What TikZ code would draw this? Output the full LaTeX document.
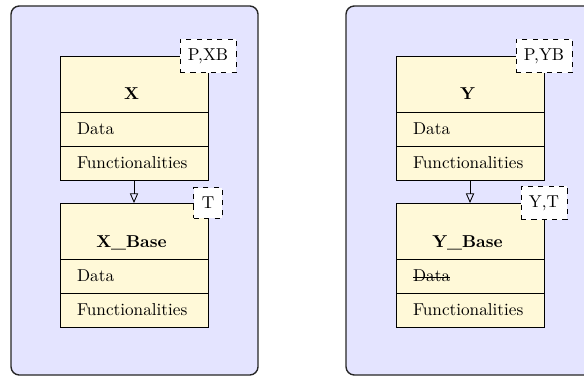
\documentclass[tikz,border=0pt]{standalone}
\usetikzlibrary{arrows.meta}
\definecolor{panelfill}{RGB}{228,228,255}
\definecolor{classfill}{RGB}{255,249,216}
% struck-through text for removed members
\newcommand\strikeword[1]{\setbox0\hbox{#1}\rlap{\rule[2.6pt]{\wd0}{0.45pt}}\box0}
\tikzset{
  panel/.style={draw=black!85, line width=0.8pt, fill=panelfill, rounded corners=4.8pt},
  titlebox/.style={draw, line width=0.5pt, fill=classfill, minimum width=86.05pt, minimum height=32.56pt, inner sep=0pt, outer sep=0pt},
  rowbox/.style={draw, line width=0.5pt, fill=classfill, minimum width=86.05pt, minimum height=19.77pt,
    text width=66.2pt, inner xsep=9.9pt, inner ysep=0pt, align=left, outer sep=0pt},
  tagbox/.style={draw, dashed, line width=0.5pt, fill=white, inner xsep=4.6pt, inner ysep=5.4pt},
  inherit/.style={line width=0.5pt, -{Triangle[open, length=5.6pt, width=4.8pt]}}
}
\begin{document}
\begin{tikzpicture}[x=0.5814pt, y=-0.5814pt]
  \useasboundingbox (0,0) rectangle (584,376);
  \clip (0,0) rectangle (584,376);

  % left package
  \draw[panel] (11,6) rectangle (258,375);
  % right package
  \draw[panel] (346,6) rectangle (593,375);

  % ---- class X ----
  \node[titlebox] (X) at (134,84) {};
  \node[anchor=base] (Xname) at (131.5,99.3) {\textbf{X}};
  \node[rowbox, anchor=north] (Xd) at (X.south) {Data};
  \node[rowbox, anchor=north] (Xf) at (Xd.south) {Functionalities};
  \node[tagbox] (Xtag) at (X.north east) {P,XB};

  % ---- class X_Base ----
  \node[titlebox] (XB) at (134,231) {};
  \node[anchor=base] (XBname) at (131.5,247.3) {\textbf{X\_Base}};
  \node[rowbox, anchor=north] (XBd) at (XB.south) {Data};
  \node[rowbox, anchor=north] (XBf) at (XBd.south) {Functionalities};
  \node[tagbox] (XBtag) at (XB.north east) {T};

  \draw[inherit] (Xf.south) -- (XB.north);

  % ---- class Y ----
  \node[titlebox] (Y) at (470,84) {};
  \node[anchor=base] (Yname) at (467.5,99.3) {\textbf{Y}};
  \node[rowbox, anchor=north] (Yd) at (Y.south) {Data};
  \node[rowbox, anchor=north] (Yf) at (Yd.south) {Functionalities};
  \node[tagbox] (Ytag) at (Y.north east) {P,YB};

  % ---- class Y_Base ----
  \node[titlebox] (YB) at (470,231) {};
  \node[anchor=base] (YBname) at (467.5,247.3) {\textbf{Y\_Base}};
  \node[rowbox, anchor=north] (YBd) at (YB.south) {\strikeword{Data}};
  \node[rowbox, anchor=north] (YBf) at (YBd.south) {Functionalities};
  \node[tagbox] (YBtag) at (YB.north east) {Y,T};

  \draw[inherit] (Yf.south) -- (YB.north);
\end{tikzpicture}
\end{document}
